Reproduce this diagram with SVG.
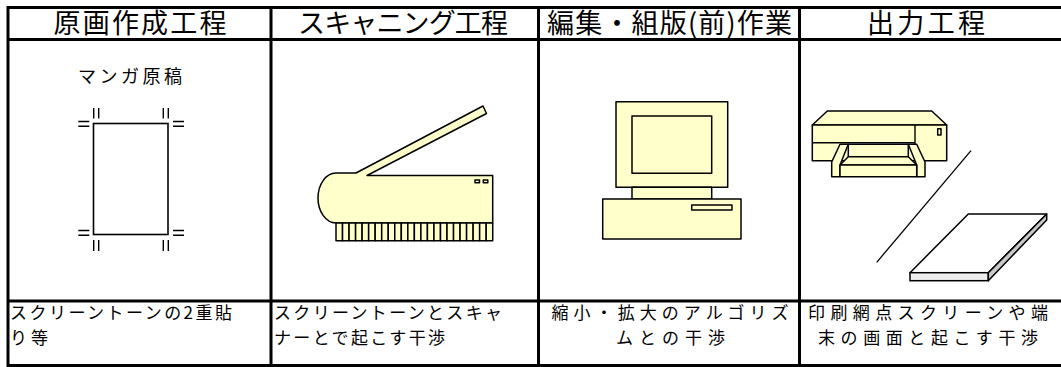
<svg xmlns="http://www.w3.org/2000/svg" width="1061" height="367" viewBox="0 0 1061 367">
  <style>
    .grid { stroke: #000; stroke-width: 3; fill: none; }
    .head { font-family: "Noto Sans CJK JP", "Liberation Sans", sans-serif; font-size: 27px; fill: #000; }
    .body { font-family: "Noto Sans CJK JP", "Liberation Sans", sans-serif; font-size: 17px; fill: #000; }
    .label { font-family: "Noto Sans CJK JP", "Liberation Sans", sans-serif; font-size: 18px; fill: #000; }
    .art { fill: #FFFFCC; stroke: #000; stroke-width: 1.5; stroke-linejoin: round; }
    .thin { fill: none; stroke: #000; stroke-width: 1.4; }
  </style>
  <rect width="1061" height="367" fill="#fff"/>

  <!-- table grid -->
  <g id="grid">
    <line class="grid" x1="8" y1="7.5" x2="1061" y2="7.5"/>
    <line class="grid" x1="8" y1="39.5" x2="1061" y2="39.5"/>
    <line class="grid" x1="8" y1="301" x2="1061" y2="301"/>
    <line class="grid" x1="8" y1="365.5" x2="1061" y2="365.5"/>
    <line class="grid" x1="8" y1="6" x2="8" y2="367"/>
    <line class="grid" x1="271" y1="6" x2="271" y2="367"/>
    <line class="grid" x1="538.5" y1="6" x2="538.5" y2="367"/>
    <line class="grid" x1="799.5" y1="6" x2="799.5" y2="367"/>
  </g>

  <!-- column headers -->
  <g id="headers">
    <text class="head" x="140" y="32.5" text-anchor="middle" textLength="173" lengthAdjust="spacing">原画作成工程</text>
    <text class="head" x="403" y="32.5" text-anchor="middle" textLength="210" lengthAdjust="spacing">スキャニング工程</text>
    <text class="head" x="669.5" y="32.5" text-anchor="middle" textLength="245" lengthAdjust="spacing">編集・組版(前)作業</text>
    <text class="head" x="926" y="32.5" text-anchor="middle" textLength="118" lengthAdjust="spacing">出力工程</text>
  </g>

  <!-- manga original with trim marks -->
  <g id="manga">
    <text class="label" x="130" y="83" text-anchor="middle" textLength="104" lengthAdjust="spacing">マンガ原稿</text>
    <rect x="93.5" y="123.5" width="74.5" height="111" fill="#fff" stroke="#000" stroke-width="1.6"/>
    <g class="thin">
      <path d="M93.7 108V118.5 M98.7 108V118.5 M78.3 121.5H89.3 M78.3 126.3H89.3"/>
      <path d="M163.3 108V118.5 M168.3 108V118.5 M173 121.5H184 M173 126.3H184"/>
      <path d="M78.3 230.5H89.3 M78.3 235.3H89.3 M93.7 240V251 M98.7 240V251"/>
      <path d="M173 230.5H184 M173 235.3H184 M163.3 240V251 M168.3 240V251"/>
    </g>
  </g>

  <!-- flatbed scanner -->
  <g id="scanner">
    <path class="art" d="M336 173 L356 173 L483 106 L486.5 113.5 L367 175.5 L492.7 175.5 L492.7 223 L336 223 A18 25 0 0 1 336 173 Z"/>
    <g class="art">
      <rect x="336.0" y="223" width="6.53" height="17.7"/>
      <rect x="342.53" y="223" width="6.53" height="17.7"/>
      <rect x="349.06" y="223" width="6.53" height="17.7"/>
      <rect x="355.59" y="223" width="6.53" height="17.7"/>
      <rect x="362.12" y="223" width="6.53" height="17.7"/>
      <rect x="368.65" y="223" width="6.53" height="17.7"/>
      <rect x="375.18" y="223" width="6.53" height="17.7"/>
      <rect x="381.71" y="223" width="6.53" height="17.7"/>
      <rect x="388.24" y="223" width="6.53" height="17.7"/>
      <rect x="394.77" y="223" width="6.53" height="17.7"/>
      <rect x="401.3" y="223" width="6.53" height="17.7"/>
      <rect x="407.83" y="223" width="6.53" height="17.7"/>
      <rect x="414.36" y="223" width="6.53" height="17.7"/>
      <rect x="420.89" y="223" width="6.53" height="17.7"/>
      <rect x="427.42" y="223" width="6.53" height="17.7"/>
      <rect x="433.95" y="223" width="6.53" height="17.7"/>
      <rect x="440.48" y="223" width="6.53" height="17.7"/>
      <rect x="447.01" y="223" width="6.53" height="17.7"/>
      <rect x="453.54" y="223" width="6.53" height="17.7"/>
      <rect x="460.07" y="223" width="6.53" height="17.7"/>
      <rect x="466.6" y="223" width="6.53" height="17.7"/>
      <rect x="473.13" y="223" width="6.53" height="17.7"/>
      <rect x="479.66" y="223" width="6.53" height="17.7"/>
      <rect x="486.19" y="223" width="6.53" height="17.7"/>
    </g>
    <rect class="art" x="475" y="180" width="4.5" height="2.8" stroke-width="1.2"/>
    <rect class="art" x="483.3" y="180" width="4.5" height="2.8" stroke-width="1.2"/>
  </g>

  <!-- desktop computer -->
  <g id="computer">
    <rect class="art" x="616" y="101.7" width="111.7" height="85.6"/>
    <rect class="art" x="632" y="116" width="79.7" height="57.3"/>
    <rect class="art" x="632" y="187.3" width="79.7" height="11.7"/>
    <rect class="art" x="602.7" y="199" width="138.3" height="40"/>
    <rect class="art" x="691.7" y="205" width="40.3" height="5"/>
  </g>

  <!-- printer, output path and printed sheet -->
  <g id="printer">
    <path class="art" d="M812.3 125 L827.3 111 L931.7 111 L946.7 125 Z"/>
    <rect class="art" x="812.3" y="125" width="134.4" height="35.7"/>
    <path class="thin" d="M812.3 142.7 H915 M915 125 V160.7"/>
    <rect class="art" x="937.7" y="128.7" width="3.3" height="6.3" stroke-width="1.2"/>
    <rect class="art" x="848.3" y="144.3" width="60" height="12.4"/>
    <path class="art" d="M848.3 156.7 L908.3 156.7 L916.7 165 L840 165 Z"/>
    <path class="art" d="M831.7 162 L840 144.3 L848.3 144.3 L840 165 L840 176.7 L831.7 176.7 Z"/>
    <path class="art" d="M925 162 L916.7 144.3 L908.3 144.3 L916.7 165 L916.7 176.7 L925 176.7 Z"/>
    <rect class="art" x="840" y="165" width="76.7" height="11.7"/>
  </g>
  <g id="connectors">
    <line x1="971" y1="150.7" x2="876.7" y2="262.3" stroke="#000" stroke-width="1.3"/>
  </g>
  <g id="sheet">
    <path d="M968.3 214 L1046.7 214 L988.3 272.7 L910 272.7 Z" fill="#fff" stroke="#000" stroke-width="1.5" stroke-linejoin="round"/>
    <rect x="910" y="272.7" width="78.3" height="8" fill="#eeeeee" stroke="#000" stroke-width="1.5"/>
    <path d="M1046.7 214 L1046.7 220 L988.3 280.7 L988.3 272.7 Z" fill="#c8c8c8" stroke="#000" stroke-width="1.5" stroke-linejoin="round"/>
  </g>

  <!-- interference notes -->
  <g id="notes">
    <text class="body" x="10" y="319" textLength="222" lengthAdjust="spacing">スクリーントーンの2重貼</text>
    <text class="body" x="10" y="344" textLength="38" lengthAdjust="spacing">り等</text>
    <text class="body" x="274" y="319" textLength="228" lengthAdjust="spacing">スクリーントーンとスキャ</text>
    <text class="body" x="274" y="344" textLength="171" lengthAdjust="spacing">ナーとで起こす干渉</text>
    <text class="body" x="670" y="319" text-anchor="middle" textLength="237" lengthAdjust="spacing">縮小・拡大のアルゴリズ</text>
    <text class="body" x="670.5" y="344" text-anchor="middle" textLength="109" lengthAdjust="spacing">ムとの干渉</text>
    <text class="body" x="928" y="319" text-anchor="middle" textLength="240" lengthAdjust="spacing">印刷網点スクリーンや端</text>
    <text class="body" x="928" y="344" text-anchor="middle" textLength="220" lengthAdjust="spacing">末の画面と起こす干渉</text>
  </g>
</svg>
